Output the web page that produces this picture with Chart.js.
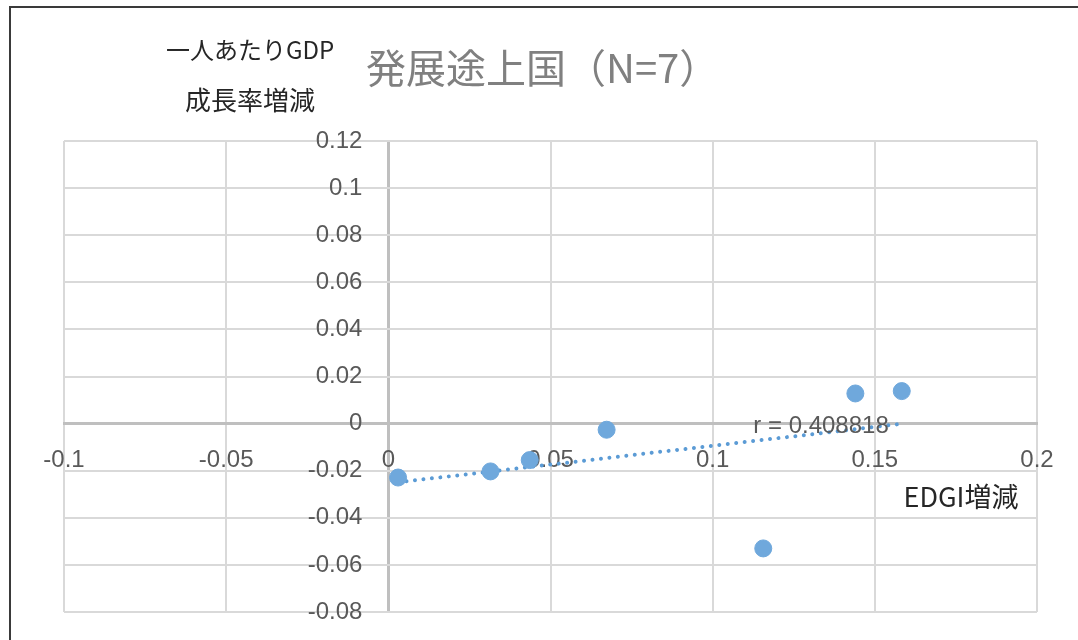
<!DOCTYPE html>
<html lang="ja">
<head>
<meta charset="utf-8">
<title>発展途上国（N=7）</title>
<script src="https://cdn.jsdelivr.net/npm/chart.js@4.4.1/dist/chart.umd.min.js"></script>
<style>
  html, body { margin: 0; padding: 0; background: #ffffff; }
  #wrap { position: relative; width: 1078px; height: 640px; overflow: hidden; }
  canvas { display: block; }
</style>
</head>
<body>
<div id="wrap"><canvas id="chart" width="1078" height="640"></canvas></div>
<script>
// EDGI change (x) vs. change in per-capita GDP growth rate (y), developing countries
const edgiChange = [0.003, 0.0315, 0.0436, 0.0673, 0.1156, 0.144, 0.1583];
const gdpGrowthChange = [-0.0229, -0.0203, -0.0155, -0.0026, -0.0530, 0.0128, 0.0138];
const correlationLabel = 'r = 0.408818';

const titleText = '発展途上国（N=7）';
const yTitleLines = ['一人あたりGDP', '成長率増減'];
const xTitleText = 'EDGI増減';

const xRange = { min: -0.1, max: 0.2, step: 0.05 };
const yRange = { min: -0.08, max: 0.12, step: 0.02 };

const points = edgiChange.map((x, i) => ({ x, y: gdpGrowthChange[i] }));

// Least-squares linear trend over the data's x span
function linearTrend(xs, ys) {
  const n = xs.length;
  const mx = xs.reduce((a, b) => a + b, 0) / n;
  const my = ys.reduce((a, b) => a + b, 0) / n;
  let sxy = 0, sxx = 0;
  for (let i = 0; i < n; i++) {
    sxy += (xs[i] - mx) * (ys[i] - my);
    sxx += (xs[i] - mx) * (xs[i] - mx);
  }
  const slope = sxy / sxx;
  const intercept = my - slope * mx;
  const x0 = Math.min(...xs), x1 = Math.max(...xs);
  return [{ x: x0, y: intercept + slope * x0 }, { x: x1, y: intercept + slope * x1 }];
}
const trendPoints = linearTrend(edgiChange, gdpGrowthChange);

const tickFont = { family: '"Liberation Sans", Arial, sans-serif', size: 24 };
const tickColor = '#595959';
const markerColor = '#6fa8dc';
const gridColor = '#d9d9d9';
const axisColor = '#bfbfbf';
const fmt = v => String(Math.round(v * 100) / 100);
// zero lines are drawn heavier, like axis lines
const zeroColor = c => (c.tick && Math.abs(c.tick.value) < 1e-9 ? axisColor : gridColor);
const zeroWidth = c => (c.tick && Math.abs(c.tick.value) < 1e-9 ? 3 : 2);

const frameAndText = {
  id: 'frameAndText',
  beforeDraw(chart) {
    const ctx = chart.ctx;
    ctx.save();
    ctx.fillStyle = '#ffffff';
    ctx.fillRect(0, 0, chart.width, chart.height);
    ctx.strokeStyle = '#3a3a3a';
    ctx.lineWidth = 2;
    ctx.strokeRect(10, 7, chart.width + 20, chart.height + 20);
    ctx.restore();
  },
  afterDatasetsDraw(chart) {
    const ctx = chart.ctx;
    const xs = chart.scales.x, ys = chart.scales.y;
    ctx.save();
    ctx.textBaseline = 'middle';

    // chart title
    ctx.fillStyle = '#808080';
    ctx.font = '40px "Noto Sans CJK JP", sans-serif';
    ctx.textAlign = 'left';
    ctx.fillText(titleText, 366, 68);

    // y-axis title (two lines)
    ctx.fillStyle = '#262626';
    ctx.textAlign = 'center';
    ctx.font = '24px "Noto Sans CJK JP", sans-serif';
    ctx.fillText(yTitleLines[0], 250, 50);
    ctx.font = '26px "Noto Sans CJK JP", sans-serif';
    ctx.fillText(yTitleLines[1], 250, 100);

    // x-axis title
    ctx.font = '27px "Noto Sans CJK JP", sans-serif';
    ctx.fillText(xTitleText, 961, 497);

    // correlation label next to the end of the trend line
    const end = trendPoints[1];
    ctx.fillStyle = tickColor;
    ctx.font = '24px "Liberation Sans", Arial, sans-serif';
    ctx.textAlign = 'right';
    ctx.fillText(correlationLabel, xs.getPixelForValue(end.x) - 13, ys.getPixelForValue(end.y) + 3);
    ctx.restore();
  }
};

new Chart(document.getElementById('chart'), {
  type: 'scatter',
  data: {
    datasets: [
      {
        label: 'trend',
        type: 'line',
        data: trendPoints,
        borderColor: '#5b9bd5',
        borderWidth: 4,
        borderDash: [0.01, 8.5],
        borderCapStyle: 'round',
        pointRadius: 0,
        fill: false,
        order: 2
      },
      {
        label: 'countries',
        data: points,
        backgroundColor: markerColor,
        borderColor: markerColor,
        pointRadius: 8.5,
        pointHoverRadius: 8.5,
        order: 1
      }
    ]
  },
  options: {
    responsive: false,
    devicePixelRatio: 1,
    animation: false,
    layout: { padding: { left: 64, top: 141, right: 41, bottom: 28 } },
    plugins: {
      legend: { display: false },
      title: { display: false },
      tooltip: { enabled: false }
    },
    scales: {
      x: {
        type: 'linear',
        position: { y: 0 },
        min: xRange.min,
        max: xRange.max,
        ticks: {
          stepSize: xRange.step,
          font: tickFont,
          color: tickColor,
          padding: 22,
          maxRotation: 0,
          autoSkip: false,
          callback: fmt
        },
        grid: { color: zeroColor, lineWidth: zeroWidth, drawTicks: false },
        border: { color: axisColor, width: 3 }
      },
      y: {
        type: 'linear',
        // labels sit a little left of the zero line
        position: { x: -0.008 },
        min: yRange.min,
        max: yRange.max,
        ticks: {
          stepSize: yRange.step,
          font: tickFont,
          color: tickColor,
          autoSkip: false,
          callback: fmt
        },
        grid: { color: zeroColor, lineWidth: zeroWidth, drawTicks: false },
        border: { display: false }
      }
    }
  },
  plugins: [frameAndText]
});
</script>
</body>
</html>
